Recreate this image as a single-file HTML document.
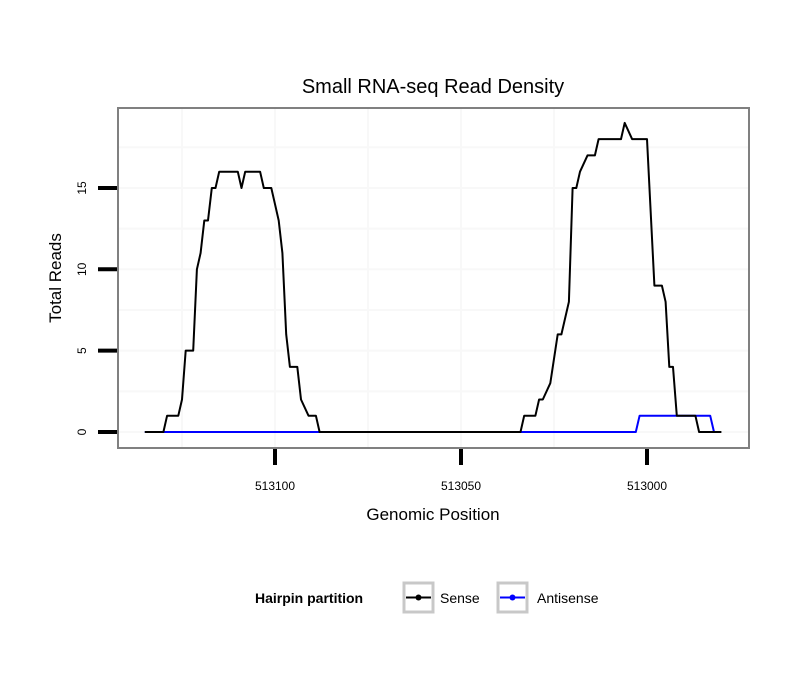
<!DOCTYPE html>
<html><head><meta charset="utf-8"><style>
body{margin:0;background:#fff;}
svg text{font-family:"Liberation Sans",sans-serif;}
</style></head><body>
<svg id="chart" width="810" height="690" viewBox="0 0 810 690" xmlns="http://www.w3.org/2000/svg">
<rect width="810" height="690" fill="#fff"/>
<text x="433" y="93" font-size="20" text-anchor="middle">Small RNA-seq Read Density</text>
<g id="grid"></g>
<g id="series"></g>
<rect x="118" y="108" width="631" height="340" fill="none" stroke="#808080" stroke-width="2"/>
<g id="axes"></g>
<text x="433" y="520" font-size="17" text-anchor="middle">Genomic Position</text>
<text x="61" y="278" font-size="17" text-anchor="middle" transform="rotate(-90 61 278)">Total Reads</text>
<g>
<text x="255" y="603" font-size="14" font-weight="bold">Hairpin partition</text>
<g>
<rect x="404" y="583" width="29" height="29" fill="#fff" stroke="#c8c8c8" stroke-width="3"/>
<line x1="406" y1="597.5" x2="431" y2="597.5" stroke="#000" stroke-width="2"/>
<circle cx="418.5" cy="597.5" r="3" fill="#000"/>
<text x="440" y="603" font-size="14">Sense</text></g>
<g>
<rect x="498" y="583" width="29" height="29" fill="#fff" stroke="#c8c8c8" stroke-width="3"/>
<line x1="500" y1="597.5" x2="525" y2="597.5" stroke="#0000ff" stroke-width="2"/>
<circle cx="512.5" cy="597.5" r="3" fill="#0000ff"/>
<text x="537" y="603" font-size="14">Antisense</text></g>
</g>
</svg>
<script>
const senseX=[513135,513130,513129,513126,513125,513124,513122,513121,513120,513119,513118,513117,513116,513115,513110,513109,513108,513104,513103,513101,513100,513099,513098,513097,513096,513094,513093,513091,513089,513088,513034,513033,513030,513029,513028,513026,513024,513023,513021,513020,513019,513018,513016,513014,513013,513007,513006,513004,513000,512998,512996,512995,512994,512993,512992,512987,512986,512980];
const senseY=[0,0,1,1,2,5,5,10,11,13,13,15,15,16,16,15,16,16,15,15,14,13,11,6,4,4,2,1,1,0,0,1,1,2,2,3,6,6,8,15,15,16,17,17,18,18,19,18,18,9,9,8,4,4,1,1,0,0];
const antiX=[513135,513003,513002,512983,512982];
const antiY=[0,0,1,1,0];
const xTicks=[513100,513050,513000];
const xTickLabels=["513100","513050","513000"];
const yTicks=[0,5,10,15];
const yTickLabels=["0","5","10","15"];
const NS="http://www.w3.org/2000/svg";
function xs(v){return 275+(513100-v)*3.72;}
function ys(v){return 432-v*16.27;}
function mk(t,a,p){const e=document.createElementNS(NS,t);for(const k in a)e.setAttribute(k,a[k]);p.appendChild(e);return e;}
const grid=document.getElementById('grid'),axes=document.getElementById('axes'),ser=document.getElementById('series');
[-1,0,1,2,3].forEach(i=>{const v=513100-25*i;const x=xs(v);if(x>119&&x<748){const l=mk('line',{x1:x,x2:x,y1:109,y2:447,stroke:'#f8f8f8','stroke-width':2},grid);}});
[0,2.5,5,7.5,10,12.5,15,17.5].forEach(v=>{const y=ys(v);const l=mk('line',{x1:119,x2:748,y1:y,y2:y,stroke:'#f8f8f8','stroke-width':2},grid);});
xTicks.forEach((v,i)=>{const x=xs(v);
const t=mk('line',{x1:x,x2:x,y1:449,y2:465,stroke:'#000','stroke-width':4},axes);
const l=mk('text',{x:x,y:490,'font-size':12,'text-anchor':'middle'},axes);l.textContent=xTickLabels[i];});
yTicks.forEach((v,i)=>{const y=ys(v);
const t=mk('line',{x1:98,x2:117,y1:y,y2:y,stroke:'#000','stroke-width':4},axes);
const l=mk('text',{x:86,y:y,'font-size':12,'text-anchor':'middle',transform:`rotate(-90 86 ${y})`},axes);l.textContent=yTickLabels[i];});
function path(X,Y,c,name){const d=X.map((v,i)=>(i?'L':'M')+xs(v).toFixed(1)+','+ys(Y[i]).toFixed(1)).join('');
const p=mk('path',{d:d,fill:'none',stroke:c,'stroke-width':2,'stroke-linejoin':'round'},ser);}
path(antiX,antiY,'#0000ff','antisense-line');
path(senseX,senseY,'#000','sense-line');
</script>
</body></html>
